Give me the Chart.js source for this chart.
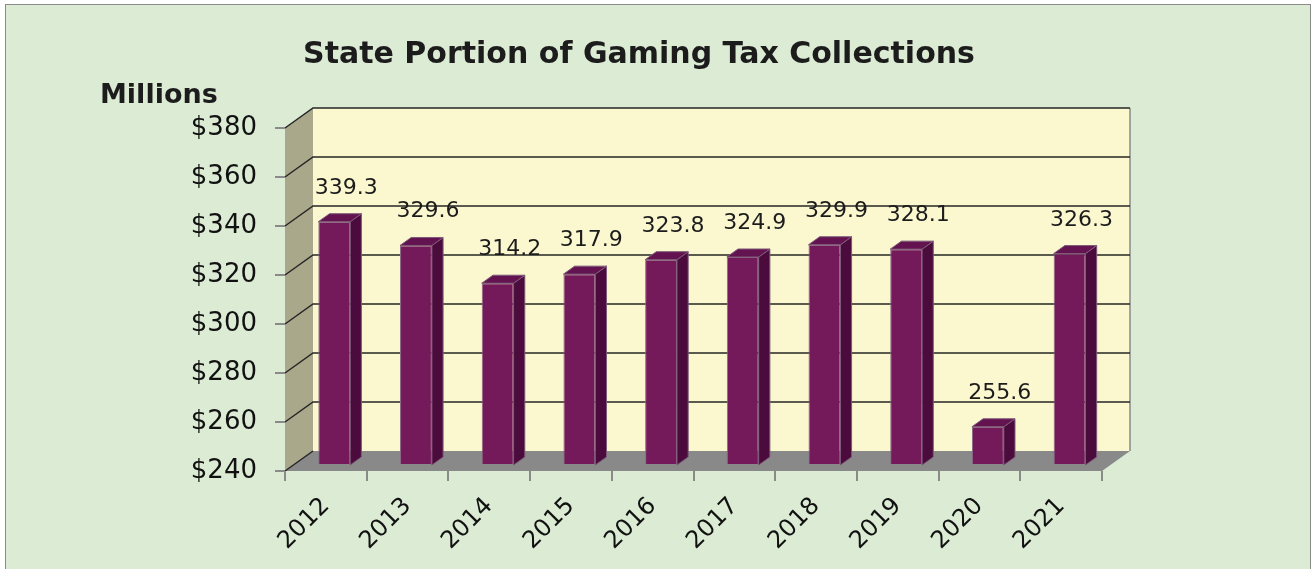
<!DOCTYPE html>
<html>
<head>
<meta charset="utf-8">
<title>State Portion of Gaming Tax Collections</title>
<script src="https://cdn.jsdelivr.net/npm/chart.js@4.4.1/dist/chart.umd.min.js"></script>
<style>
    html, body { margin: 0; padding: 0; background: #ffffff; }
    canvas { display: block; }
</style>
</head>
<body>
<canvas id="gamingChart" width="1312" height="569"></canvas>
<script>
// Données du graphique
const years = ['2012', '2013', '2014', '2015', '2016', '2017', '2018', '2019', '2020', '2021'];
const collections = [339.3, 329.6, 314.2, 317.9, 323.8, 324.9, 329.9, 328.1, 255.6, 326.3];
const yTicks = [240, 260, 280, 300, 320, 340, 360, 380];

// Profondeur de la "boîte" 3D
const DX = 28, DY = -20;
const BAR_SHIFT = 0.3, BAR_DEPTH = 0.4;
const FONT = '"DejaVu Sans", sans-serif';

function poly(ctx, pts, fill, stroke) {
    ctx.beginPath();
    ctx.moveTo(pts[0][0], pts[0][1]);
    for (let i = 1; i < pts.length; i++) ctx.lineTo(pts[i][0], pts[i][1]);
    ctx.closePath();
    if (fill) { ctx.fillStyle = fill; ctx.fill(); }
    if (stroke) { ctx.strokeStyle = stroke; ctx.lineWidth = 1; ctx.stroke(); }
}

const box3d = {
    id: 'box3d',
    beforeDraw(chart) {
        const ctx = chart.ctx;
        const a = chart.chartArea;
        const y = chart.scales.y;
        ctx.save();
        ctx.fillStyle = '#ffffff';
        ctx.fillRect(0, 0, chart.width, chart.height);
        ctx.fillStyle = '#dcebd4';
        ctx.fillRect(5, 4, chart.width - 7, chart.height);
        ctx.strokeStyle = '#8a8a8a';
        ctx.lineWidth = 1;
        ctx.strokeRect(5.5, 4.5, chart.width - 7, chart.height + 5);

        // mur de gauche, mur du fond, sol
        poly(ctx, [[a.left, a.bottom], [a.left, a.top], [a.left + DX, a.top + DY], [a.left + DX, a.bottom + DY]], '#a9a88b');
        ctx.fillStyle = '#fbf8cf';
        ctx.fillRect(a.left + DX, a.top + DY, a.right - a.left, a.bottom - a.top);
        poly(ctx, [[a.left, a.bottom], [a.right, a.bottom], [a.right + DX, a.bottom + DY], [a.left + DX, a.bottom + DY]], '#898989');

        // bord droit du mur du fond
        ctx.strokeStyle = '#8a8a8a';
        ctx.lineWidth = 1.5;
        ctx.beginPath();
        ctx.moveTo(a.right + DX, a.top + DY);
        ctx.lineTo(a.right + DX, a.bottom + DY);
        ctx.stroke();

        // lignes de grille
        ctx.strokeStyle = '#262626';
        ctx.lineWidth = 1.5;
        yTicks.forEach(v => {
            const py = y.getPixelForValue(v);
            ctx.beginPath();
            ctx.moveTo(a.left, py);
            ctx.lineTo(a.left + DX, py + DY);
            if (v !== yTicks[0]) ctx.lineTo(a.right + DX, py + DY);
            ctx.stroke();
        });
        ctx.restore();
    },
    beforeDatasetsDraw(chart) {
        chart.ctx.save();
        chart.ctx.translate(DX * BAR_SHIFT, DY * BAR_SHIFT);
    },
    afterDatasetsDraw(chart) {
        const ctx = chart.ctx;
        const bx = DX * BAR_DEPTH, by = DY * BAR_DEPTH;
        const base = chart.scales.y.getBasePixel();
        chart.getDatasetMeta(0).data.forEach(el => {
            const p = el.getProps(['x', 'y', 'width'], true);
            const l = p.x - p.width / 2, r = p.x + p.width / 2;
            poly(ctx, [[r, p.y], [r + bx, p.y + by], [r + bx, base + by], [r, base]], '#4c0b3d', '#7d5a78');
            poly(ctx, [[l, p.y], [l + bx, p.y + by], [r + bx, p.y + by], [r, p.y]], '#631350', '#7d5a78');
        });
        ctx.restore();
    },
    afterDraw(chart) {
        const ctx = chart.ctx;
        ctx.save();
        ctx.fillStyle = '#1c1c1c';
        ctx.textAlign = 'center';
        ctx.textBaseline = 'alphabetic';
        ctx.font = 'bold 30px ' + FONT;
        ctx.fillText('State Portion of Gaming Tax Collections', 639, 63);
        ctx.textAlign = 'left';
        ctx.font = 'bold 27px ' + FONT;
        ctx.fillText('Millions', 100, 103);

        // étiquettes de valeurs
        ctx.textAlign = 'center';
        ctx.font = '22px ' + FONT;
        chart.getDatasetMeta(0).data.forEach((el, i) => {
            const p = el.getProps(['x', 'y'], true);
            ctx.fillText(collections[i].toFixed(1), p.x + DX * BAR_SHIFT + 12, p.y + DY * BAR_SHIFT - 28);
        });
        ctx.restore();
    }
};

new Chart(document.getElementById('gamingChart'), {
    type: 'bar',
    data: {
        labels: years,
        datasets: [{
            label: 'Millions',
            data: collections,
            base: yTicks[0],
            backgroundColor: '#741a5b',
            borderColor: '#8c6a86',
            borderWidth: 1,
            categoryPercentage: 1,
            barPercentage: 0.39
        }]
    },
    options: {
        responsive: false,
        animation: false,
        layout: { padding: { top: 128, right: 210, bottom: 0, left: 0 } },
        plugins: {
            legend: { display: false },
            tooltip: { enabled: false }
        },
        scales: {
            x: {
                border: { display: false },
                grid: { drawOnChartArea: false, drawTicks: true, tickLength: 10, color: '#8a8a8a', lineWidth: 2, offset: true },
                ticks: { font: { family: FONT, size: 24 }, color: '#111111', minRotation: 45, maxRotation: 45, padding: 11 },
                afterFit: s => { s.height = 98; }
            },
            y: {
                min: 240,
                max: 380,
                border: { display: false },
                grid: { drawOnChartArea: false, drawTicks: true, tickLength: 10, color: '#8a8a8a', lineWidth: 2 },
                ticks: {
                    font: { family: FONT, size: 26 },
                    color: '#111111',
                    padding: 18,
                    callback: v => '$' + v
                },
                afterBuildTicks: s => { s.ticks = yTicks.map(v => ({ value: v })); },
                afterFit: s => { s.width = 285; }
            }
        }
    },
    plugins: [box3d]
});
</script>
</body>
</html>
